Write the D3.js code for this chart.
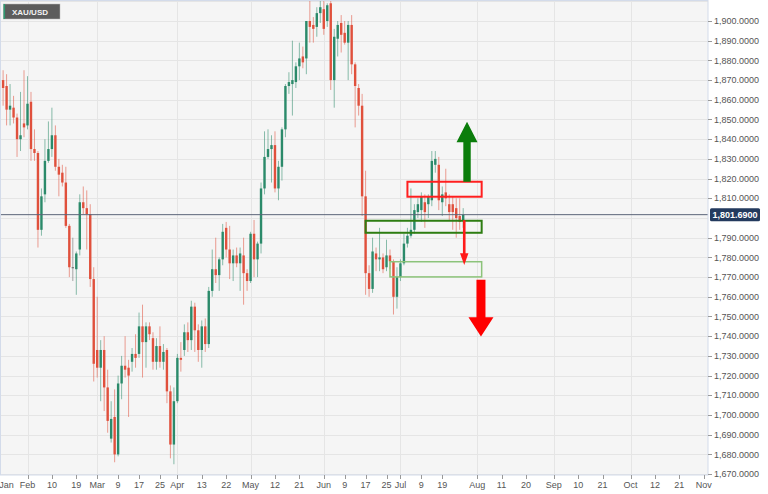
<!DOCTYPE html>
<html><head><meta charset="utf-8">
<script src="https://cdn.jsdelivr.net/npm/d3@7"></script>
<style>
html,body{margin:0;padding:0;background:#fff;}
svg{display:block;font-family:"Liberation Sans",Arial,sans-serif;}
</style></head>
<body><svg id="c" width="768" height="494"></svg>
<script>
// ---- data ----
const symbol = "XAU/USD";
const lastPrice = 1801.69;
const dates = [
"2021-01-20","2021-01-21","2021-01-22","2021-01-25","2021-01-26","2021-01-27","2021-01-28","2021-01-29",
"2021-02-01","2021-02-02","2021-02-03","2021-02-04","2021-02-05","2021-02-08","2021-02-09","2021-02-10","2021-02-11","2021-02-12",
"2021-02-15","2021-02-16","2021-02-17","2021-02-18","2021-02-19","2021-02-22","2021-02-23","2021-02-24","2021-02-25","2021-02-26",
"2021-03-01","2021-03-02","2021-03-03","2021-03-04","2021-03-05","2021-03-08","2021-03-09","2021-03-10","2021-03-11","2021-03-12",
"2021-03-15","2021-03-16","2021-03-17","2021-03-18","2021-03-19","2021-03-22","2021-03-23","2021-03-24","2021-03-25","2021-03-26",
"2021-03-29","2021-03-30","2021-03-31","2021-04-01","2021-04-05","2021-04-06","2021-04-07","2021-04-08","2021-04-09",
"2021-04-12","2021-04-13","2021-04-14","2021-04-15","2021-04-16","2021-04-19","2021-04-20","2021-04-21","2021-04-22","2021-04-23",
"2021-04-26","2021-04-27","2021-04-28","2021-04-29","2021-04-30","2021-05-03","2021-05-04","2021-05-05","2021-05-06","2021-05-07",
"2021-05-10","2021-05-11","2021-05-12","2021-05-13","2021-05-14","2021-05-17","2021-05-18","2021-05-19","2021-05-20","2021-05-21",
"2021-05-24","2021-05-25","2021-05-26","2021-05-27","2021-05-28","2021-05-31","2021-06-01","2021-06-02","2021-06-03","2021-06-04",
"2021-06-07","2021-06-08","2021-06-09","2021-06-10","2021-06-11","2021-06-14","2021-06-15","2021-06-16","2021-06-17","2021-06-18",
"2021-06-21","2021-06-22","2021-06-23","2021-06-24","2021-06-25","2021-06-28","2021-06-29","2021-06-30","2021-07-01","2021-07-02",
"2021-07-05","2021-07-06","2021-07-07","2021-07-08","2021-07-09","2021-07-12","2021-07-13","2021-07-14","2021-07-15","2021-07-16",
"2021-07-19","2021-07-20","2021-07-21","2021-07-22","2021-07-23","2021-07-26","2021-07-27"];
const open = [1840,1870,1867,1855,1856,1851,1840,1848,
1847,1859,1835,1833,1794,1812,1829,1835,1842,1826,
1823,1818,1796,1775,1774,1784,1808,1805,1802,1769,
1733,1724,1733,1714,1688,1699,1680,1716,1725,1724,
1727,1731,1731,1745,1737,1745,1739,1727,1735,1727,
1733,1712,1685,1707,1729,1733,1742,1738,1755,
1743,1733,1745,1736,1763,1774,1771,1779,1795,1784,
1777,1781,1777,1781,1772,1768,1792,1779,1787,1815,
1831,1835,1837,1815,1826,1845,1867,1868,1869,1877,
1882,1881,1900,1898,1897,1904,1906,1900,1909,1870,
1891,1899,1894,1889,1898,1878,1866,1857,1811,1772,
1764,1782,1779,1780,1775,1781,1778,1760,1770,1777,
1787,1791,1794,1803,1804,1808,1807,1809,1827,1827,
1808,1813,1807,1807,1805,1801,1798.5];
const high = [1872,1875,1873,1868,1862,1853,1864,1875,
1872,1864,1845,1834,1815,1840,1849,1856,1847,1830,
1827,1826,1797,1790,1783,1812,1816,1814,1807,1775,
1760,1738,1740,1723,1707,1713,1720,1730,1740,1728,
1734,1741,1752,1756,1747,1747,1742,1739,1745,1736,
1734,1715,1714,1731,1737,1746,1747,1758,1757,
1746,1748,1749,1765,1784,1790,1780,1797,1798,1796,
1784,1785,1785,1790,1774,1793,1799,1788,1818,1844,
1845,1842,1844,1829,1846,1868,1874,1890,1879,1889,
1887,1900,1912,1902,1907,1912,1916,1909,1912,1896,
1900,1903,1900,1900,1903,1879,1868,1863,1824,1776,
1790,1785,1795,1782,1789,1784,1779,1775,1779,1792,
1795,1815,1807,1810,1813,1812,1812,1834,1834,1831,
1816,1825,1812,1811,1810,1810,1805];
const low = [1833,1857,1847,1847,1848,1831,1834,1841,
1845,1829,1829,1785,1791,1808,1828,1831,1824,1811,
1816,1795,1770,1768,1761,1781,1802,1784,1765,1717,
1719,1707,1702,1691,1686,1676,1679,1708,1719,1699,
1722,1724,1729,1719,1724,1738,1723,1723,1724,1723,
1706,1678,1675,1706,1722,1730,1732,1733,1732,
1727,1724,1732,1734,1760,1767,1763,1776,1780,1769,
1768,1775,1763,1756,1763,1767,1770,1770,1782,1812,
1830,1818,1813,1809,1819,1841,1863,1852,1866,1870,
1876,1873,1889,1889,1892,1899,1893,1897,1865,1856,
1882,1884,1888,1870,1873,1846,1852,1801,1761,1760,
1762,1773,1773,1772,1773,1774,1751,1754,1768,1776,
1785,1790,1792,1800,1798,1795,1800,1806,1823,1804,
1801,1806,1799,1794,1790,1794,1795];
const close = [1870,1866,1855,1857,1851,1840,1842,1846,
1858,1835,1833,1794,1811,1829,1835,1842,1826,1822,
1818,1796,1775,1775,1782,1808,1805,1802,1769,1726,
1724,1733,1714,1697,1698,1680,1716,1725,1723,1720,
1731,1729,1745,1737,1745,1741,1727,1735,1727,1732,
1712,1685,1707,1729,1728,1742,1738,1755,1743,
1733,1745,1736,1763,1774,1771,1779,1793,1784,1777,
1781,1777,1782,1772,1768,1792,1779,1787,1815,1831,
1835,1837,1815,1826,1845,1867,1869,1870,1877,1881,
1879,1900,1897,1896,1904,1907,1896,1908,1870,1892,
1898,1893,1889,1898,1878,1867,1857,1811,1772,1764,
1783,1779,1780,1774,1781,1778,1760,1770,1777,1787,
1791,1794,1804,1807,1811,1803,1811,1829,1830,1809,
1812,1810,1803,1803,1800,1798,1801.69];

// x-axis ticks (date, label)
const tickDates = ["2021-01-22","2021-02-01","2021-02-10","2021-02-19","2021-03-01","2021-03-09","2021-03-17","2021-03-25",
"2021-04-01","2021-04-13","2021-04-22","2021-05-03","2021-05-12","2021-05-21","2021-06-01","2021-06-09","2021-06-17","2021-06-25",
"2021-07-01","2021-07-09","2021-07-19","2021-08-02","2021-08-11","2021-08-20","2021-09-01","2021-09-10","2021-09-21",
"2021-10-01","2021-10-12","2021-10-21","2021-11-01"];
const tickLabels = ["Jan","Feb","10","19","Mar","9","17","25","Apr","13","22","May","12","21","Jun","9","17","25",
"Jul","9","19","Aug","11","20","Sep","10","21","Oct","12","21","Nov"];
const monthGridDates = ["2021-02-01","2021-03-01","2021-04-01","2021-05-03","2021-06-01","2021-07-01","2021-08-02","2021-09-01","2021-10-01"];
const priceTicks = [1670,1680,1690,1700,1710,1720,1730,1740,1750,1760,1770,1780,1790,1800,1810,1820,1830,1840,1850,1860,1870,1880,1890,1900,1910];
const priceLabelTicks = priceTicks.filter(p => p <= 1900 && p !== 1800);

// annotation levels (dates / prices)
const boxStart = ["2021-07-05","2021-06-17","2021-06-28"];
const boxEnd   = ["2021-08-03","2021-08-03","2021-08-03"];
const boxLow   = [1810.8, 1792.5, 1770.1];
const boxHigh  = [1818.4, 1798.6, 1777.8];

// ---- layout ----
const W = 708, H = 475;
const svg = d3.select("#c");

// trading calendar: weekdays Jan 4 - Nov 5, 2021, minus Good Friday
const parse = d3.utcParse("%Y-%m-%d"), fmt = d3.utcFormat("%Y-%m-%d");
const cal = d3.utcDays(parse("2021-01-04"), parse("2021-11-06"))
  .filter(d => d.getUTCDay() !== 0 && d.getUTCDay() !== 6)
  .map(fmt).filter(s => s !== "2021-04-02");
const idx = new Map(cal.map((s,i)=>[s,i]));
const xi = d3.scaleLinear().domain([20, 193]).range([27.5, 630.5]);
const X = s => xi(idx.get(s));
const y = d3.scaleLinear().domain([1669.54, 1910.66]).range([H, 0]);

// backgrounds
svg.append("rect").attr("width",768).attr("height",494).attr("fill","#ffffff");
svg.append("rect").attr("x",0).attr("y",0).attr("width",W).attr("height",H).attr("fill","#f5f5f5");

const defs = svg.append("defs");
defs.append("clipPath").attr("id","clip").append("rect").attr("x",0).attr("y",0).attr("width",W).attr("height",H);
const plot = svg.append("g").attr("clip-path","url(#clip)");

// grid
plot.selectAll("line.hg").data(priceTicks).enter().append("line")
  .attr("x1",0).attr("x2",W).attr("y1",d=>Math.round(y(d))+0.5).attr("y2",d=>Math.round(y(d))+0.5)
  .attr("stroke","#e5e5e5").attr("stroke-width",1);
plot.selectAll("line.vg").data(monthGridDates).enter().append("line")
  .attr("y1",0).attr("y2",H).attr("x1",d=>Math.round(X(d))+0.5).attr("x2",d=>Math.round(X(d))+0.5)
  .attr("stroke","#e5e5e5").attr("stroke-width",1);

// candles
const GREEN = "#2b8a6a", RED = "#e0503c", GRAY = "#666";
const candles = dates.map((d,i)=>({d, o:open[i], h:high[i], l:low[i], c:close[i]}));
const col = k => k.c > k.o ? GREEN : (k.c < k.o ? RED : GRAY);
const cg = plot.append("g");
cg.selectAll("line.w").data(candles).enter().append("line")
  .attr("x1",k=>X(k.d)).attr("x2",k=>X(k.d))
  .attr("y1",k=>y(k.h)).attr("y2",k=>y(k.l))
  .attr("stroke",col).attr("stroke-opacity",0.55).attr("stroke-width",1);
cg.selectAll("rect.b").data(candles).enter().append("rect")
  .attr("x",k=>X(k.d)-1.2).attr("width",2.4)
  .attr("y",k=>y(Math.max(k.o,k.c)))
  .attr("height",k=>Math.max(1, Math.abs(y(k.o)-y(k.c))))
  .attr("fill",col);

// current price line
plot.append("line").attr("x1",0).attr("x2",W)
  .attr("y1",y(lastPrice)).attr("y2",y(lastPrice))
  .attr("stroke","#5b6478").attr("stroke-width",1);

// annotation boxes
const boxColors = ["#ff1f1f","#2e7d12","#8cc37a"];
const boxWidths = [2,2,1.5];
boxStart.forEach((s,i)=>{
  const x0 = X(s), x1 = xi(idx.get(boxEnd[i]) + 0.3);
  plot.append("rect").attr("x",x0).attr("y",y(boxHigh[i]))
    .attr("width",x1-x0).attr("height",y(boxLow[i])-y(boxHigh[i]))
    .attr("fill","none").attr("stroke",boxColors[i]).attr("stroke-width",boxWidths[i]);
});

// arrows
function arrow(cx, yBase, yHeadBase, yTip, shaftHalf, headHalf, color){
  const p = d3.path();
  p.moveTo(cx-shaftHalf, yBase); p.lineTo(cx-shaftHalf, yHeadBase); p.lineTo(cx-headHalf, yHeadBase);
  p.lineTo(cx, yTip); p.lineTo(cx+headHalf, yHeadBase); p.lineTo(cx+shaftHalf, yHeadBase);
  p.lineTo(cx+shaftHalf, yBase); p.closePath();
  plot.append("path").attr("d",p.toString()).attr("fill",color);
}
const arrowX = xi(146.1), smallX = xi(145.3), bigX = xi(150.1);
arrow(arrowX, y(1818.4), y(1838.4), y(1848.9), 3.7, 10.5, "#0b7d0b");
arrow(smallX, y(1798.9), y(1782.1), y(1776.1), 1.3, 4.2, "#ff1a1a");
arrow(bigX, y(1768.6), y(1749.6), y(1739.8), 4.5, 12.5, "#ff0000");

// plot border
svg.append("rect").attr("x",0.5).attr("y",0.5).attr("width",W-0.5).attr("height",H-0.5)
  .attr("fill","none").attr("stroke","#d3dbea").attr("stroke-width",1);

// right axis
const ra = svg.append("g");
ra.selectAll("line").data(priceLabelTicks).enter().append("line")
  .attr("x1",W).attr("x2",W+4).attr("y1",d=>Math.round(y(d))+0.5).attr("y2",d=>Math.round(y(d))+0.5)
  .attr("stroke","#999");
ra.selectAll("text").data(priceLabelTicks).enter().append("text")
  .attr("x",W+6).attr("y",d=>y(d)+3.2).attr("font-size",9).attr("fill","#555")
  .text(d=>d3.format(",.4f")(d));

// last price label
const ly = y(lastPrice);
svg.append("rect").attr("x",W+2).attr("y",ly-6.5).attr("width",50).attr("height",13).attr("rx",1.5).attr("fill","#233a5e");
svg.append("text").attr("x",W+27).attr("y",ly+3.3).attr("text-anchor","middle")
  .attr("font-size",9).attr("font-weight","bold").attr("fill","#fff").text(d3.format(",.4f")(lastPrice));

// bottom axis
const ba = svg.append("g");
ba.selectAll("line").data(tickDates.slice(1)).enter().append("line")
  .attr("x1",d=>Math.round(X(d))+0.5).attr("x2",d=>Math.round(X(d))+0.5).attr("y1",H).attr("y2",H+4)
  .attr("stroke","#999");
ba.selectAll("text").data(tickDates).enter().append("text")
  .attr("x",d=>X(d)).attr("y",H+13).attr("text-anchor","middle").attr("font-size",9).attr("fill","#555")
  .text((d,i)=>tickLabels[i]);

// symbol badge
svg.append("rect").attr("x",3.5).attr("y",4).attr("width",56.5).attr("height",15).attr("fill","#5c5c5c")
  .attr("stroke","#bbb").attr("stroke-width",0.5);
svg.append("rect").attr("x",3.5).attr("y",4).attr("width",1.6).attr("height",15).attr("fill","#2e9a72");
svg.append("text").attr("x",30).attr("y",15).attr("text-anchor","middle").attr("font-size",8)
  .attr("font-weight","bold").attr("fill","#f2f2f2").text(symbol);
</script></body></html>
